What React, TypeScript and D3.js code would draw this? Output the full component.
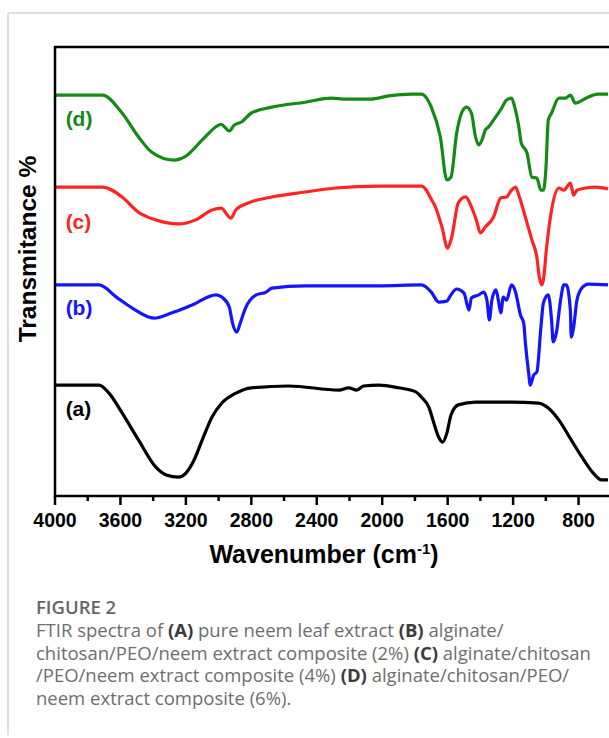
import * as d3 from "d3";
import React from "react";

// FTIR spectra, wavenumber (cm-1) vs transmittance (offset, a.u.)
const specA: [number, number][] = [
  [4000, 24.7], [3730, 24.7], [3670, 22.9], [3590, 18.5], [3490, 12.5], [3385, 6.5],
  [3320, 4.7], [3245, 4.2], [3200, 5.1], [3150, 8.0], [3100, 12.5], [3040, 17.6],
  [2980, 20.7], [2895, 22.9], [2800, 24.1], [2570, 24.5], [2265, 23.6], [2205, 24.1],
  [2155, 23.6], [2115, 24.5], [2020, 24.7], [1900, 24.1], [1795, 23.2], [1760, 22.0],
  [1715, 19.8], [1685, 16.3], [1655, 13.1], [1630, 12.0], [1605, 14.0], [1580, 18.0],
  [1535, 20.3], [1430, 20.9], [1210, 20.9], [1045, 20.7], [985, 19.6], [920, 16.9],
  [845, 12.5], [780, 8.7], [710, 5.1], [660, 3.6], [620, 3.6],
];

const specB: [number, number][] = [
  [4000, 47.0], [3730, 47.0], [3625, 44.3], [3530, 41.9], [3395, 39.6], [3285, 40.8],
  [3165, 42.5], [3015, 44.8], [2980, 44.3], [2935, 42.1], [2915, 38.5], [2890, 36.5],
  [2865, 38.8], [2835, 41.9], [2770, 44.8], [2710, 45.4], [2675, 46.3], [2470, 46.8],
  [2265, 46.8], [2020, 46.8], [1760, 47.0], [1700, 45.4], [1655, 43.2], [1605, 43.4],
  [1580, 44.8], [1545, 46.1], [1500, 45.2], [1470, 41.4], [1455, 44.1], [1410, 44.8],
  [1380, 45.4], [1360, 43.6], [1345, 39.2], [1330, 43.6], [1305, 45.9], [1290, 43.6],
  [1275, 40.8], [1260, 44.3], [1240, 43.6], [1210, 47.0], [1185, 45.4], [1155, 40.3],
  [1135, 38.5], [1125, 34.1], [1105, 27.4], [1095, 24.7], [1075, 26.9], [1055, 27.6],
  [1030, 37.6], [1015, 43.0], [985, 44.8], [965, 39.2], [955, 34.3], [935, 36.5],
  [910, 43.6], [890, 47.0], [875, 47.0], [850, 41.4], [845, 35.4], [830, 37.6],
  [810, 43.6], [780, 46.3], [740, 47.2], [620, 47.0],
];

const specC: [number, number][] = [
  [4000, 68.8], [3710, 68.8], [3590, 66.6], [3490, 63.2], [3385, 61.5], [3245, 60.6],
  [3140, 61.5], [3040, 63.7], [2985, 64.1], [2925, 61.9], [2895, 63.7], [2815, 65.3],
  [2675, 66.6], [2470, 67.7], [2285, 68.6], [2020, 69.0], [1760, 69.0], [1730, 68.1],
  [1705, 66.4], [1675, 64.4], [1635, 59.9], [1600, 55.2], [1575, 57.7], [1535, 65.3],
  [1490, 66.6], [1455, 64.4], [1425, 61.5], [1400, 58.6], [1370, 59.9], [1320, 62.1],
  [1275, 66.4], [1240, 66.6], [1210, 68.1], [1185, 68.8], [1165, 67.0], [1125, 62.1],
  [1085, 57.0], [1055, 53.2], [1040, 48.8], [1025, 47.0], [1015, 48.1], [995, 55.5],
  [965, 63.7], [920, 68.6], [890, 68.1], [850, 69.7], [830, 67.0], [810, 68.1],
  [755, 68.6], [695, 68.8], [620, 68.4],
];

const specD: [number, number][] = [
  [4000, 89.3], [3710, 89.3], [3590, 85.3], [3490, 80.0], [3410, 76.6], [3275, 74.8],
  [3200, 75.7], [3100, 79.3], [3000, 82.6], [2985, 82.8], [2935, 81.3], [2905, 82.6],
  [2860, 83.3], [2800, 85.3], [2675, 86.6], [2470, 87.7], [2310, 88.6], [2235, 88.4],
  [2070, 88.4], [1960, 89.1], [1820, 89.5], [1760, 89.5], [1700, 86.6], [1645, 80.0],
  [1605, 70.4], [1580, 71.0], [1545, 80.8], [1515, 85.3], [1485, 86.6], [1455, 85.3],
  [1430, 80.0], [1410, 78.2], [1390, 79.3], [1370, 81.5], [1350, 82.2], [1320, 83.7],
  [1270, 86.4], [1240, 88.2], [1210, 88.6], [1190, 86.6], [1165, 82.2], [1150, 78.6],
  [1115, 76.4], [1085, 71.0], [1055, 70.8], [1030, 68.1], [1015, 68.1], [1000, 72.6],
  [985, 83.7], [965, 85.3], [920, 88.6], [880, 88.6], [850, 89.3], [820, 87.5],
  [800, 87.7], [755, 88.6], [680, 89.5], [620, 89.5],
];

const seriesNames = ["(a)", "(b)", "(c)", "(d)"];
const seriesColors = ["#000000", "#1414ff", "#ff2424", "#138a13"];
// label anchor for each series: [wavenumber, transmittance]
const labelAnchors: [number, number][] = [[3935, 17.8], [3935, 40.3], [3935, 59.5], [3935, 82.4]];

const majorTicks = [4000, 3600, 3200, 2800, 2400, 2000, 1600, 1200, 800];
const minorTicks = [3800, 3400, 3000, 2600, 2200, 1800, 1400, 1000, 600];

const captionLines = [
  [["FTIR spectra of ", false], ["(A)", true], [" pure neem leaf extract ", false], ["(B)", true], [" alginate/", false]],
  [["chitosan/PEO/neem extract composite (2%) ", false], ["(C)", true], [" alginate/chitosan", false]],
  [["/PEO/neem extract composite (4%) ", false], ["(D)", true], [" alginate/chitosan/PEO/", false]],
  [["neem extract composite (6%).", false]],
] as [string, boolean][][];

const W = 609;
const H = 738;
const left = 55;
const top = 47;
const bottom = 496;

export default function App() {
  const x = d3.scaleLinear().domain([4000, 400]).range([left, 644]);
  const y = d3.scaleLinear().domain([0, 100]).range([bottom, top]);
  const line = d3
    .line<[number, number]>()
    .x((d) => x(d[0]))
    .y((d) => y(d[1]))
    .curve(d3.curveMonotoneX);
  const spectra = [specA, specB, specC, specD];
  const font = "Arial, 'Liberation Sans', sans-serif";
  const capFont = "'Open Sans', 'Noto Sans', sans-serif";

  return (
    <svg
      width={W}
      height={H}
      style={{ position: "absolute", left: 0, top: 0, background: "#fff" }}
    >
      <defs>
        <clipPath id="plot">
          <rect x={left} y={top} width={W - left} height={bottom - top + 1} />
        </clipPath>
      </defs>
      {/* page frame */}
      <line x1={8} x2={W} y1={13} y2={13} stroke="#d4d4d4" strokeWidth={1.5} />
      <line x1={8} x2={8} y1={13} y2={735} stroke="#d4d4d4" strokeWidth={1.5} />

      <g clipPath="url(#plot)">
        {spectra.map((s, i) => (
          <path
            key={i}
            d={line(s) || ""}
            fill="none"
            stroke={seriesColors[i]}
            strokeWidth={3.2}
            strokeLinejoin="round"
          />
        ))}
      </g>

      {seriesNames.map((n, i) => (
        <text
          key={n}
          x={x(labelAnchors[i][0])}
          y={y(labelAnchors[i][1])}
          fill={seriesColors[i]}
          fontFamily={font}
          fontWeight="bold"
          fontSize={21}
        >
          {n}
        </text>
      ))}

      {/* plot frame */}
      <path
        d={`M${W + 2},${top}H${left}V${bottom}H${W + 2}`}
        fill="none"
        stroke="#000"
        strokeWidth={2.5}
      />
      {majorTicks.map((t) => (
        <g key={t}>
          <line x1={x(t)} x2={x(t)} y1={bottom} y2={bottom + 9} stroke="#000" strokeWidth={2.5} />
          <text
            x={x(t)}
            y={527}
            textAnchor="middle"
            fontFamily={font}
            fontWeight="bold"
            fontSize={19.5}
          >
            {t}
          </text>
        </g>
      ))}
      {minorTicks.map((t) => (
        <line key={t} x1={x(t)} x2={x(t)} y1={bottom} y2={bottom + 5} stroke="#000" strokeWidth={2.5} />
      ))}

      <text x={324} y={563} textAnchor="middle" fontFamily={font} fontWeight="bold" fontSize={25}>
        Wavenumber (cm
        <tspan dy={-9} fontSize={15}>-1</tspan>
        <tspan dy={9}>)</tspan>
      </text>
      <text
        transform="translate(36,249) rotate(-90)"
        textAnchor="middle"
        fontFamily={font}
        fontWeight="bold"
        fontSize={24.5}
      >
        Transmitance %
      </text>

      {/* caption */}
      <text x={36} y={614} fill="#666" fontFamily={capFont} fontWeight={600} fontSize={18.5}>
        FIGURE 2
      </text>
      {captionLines.map((parts, i) => (
        <text key={i} x={36} y={637 + i * 22.5} fontFamily={capFont} fontSize={18.5} fill="#6e6e6e">
          {parts.map(([s, b], j) => (
            <tspan key={j} fontWeight={b ? 700 : 400} fill={b ? "#3a3a3a" : "#6e6e6e"}>
              {s}
            </tspan>
          ))}
        </text>
      ))}
    </svg>
  );
}
